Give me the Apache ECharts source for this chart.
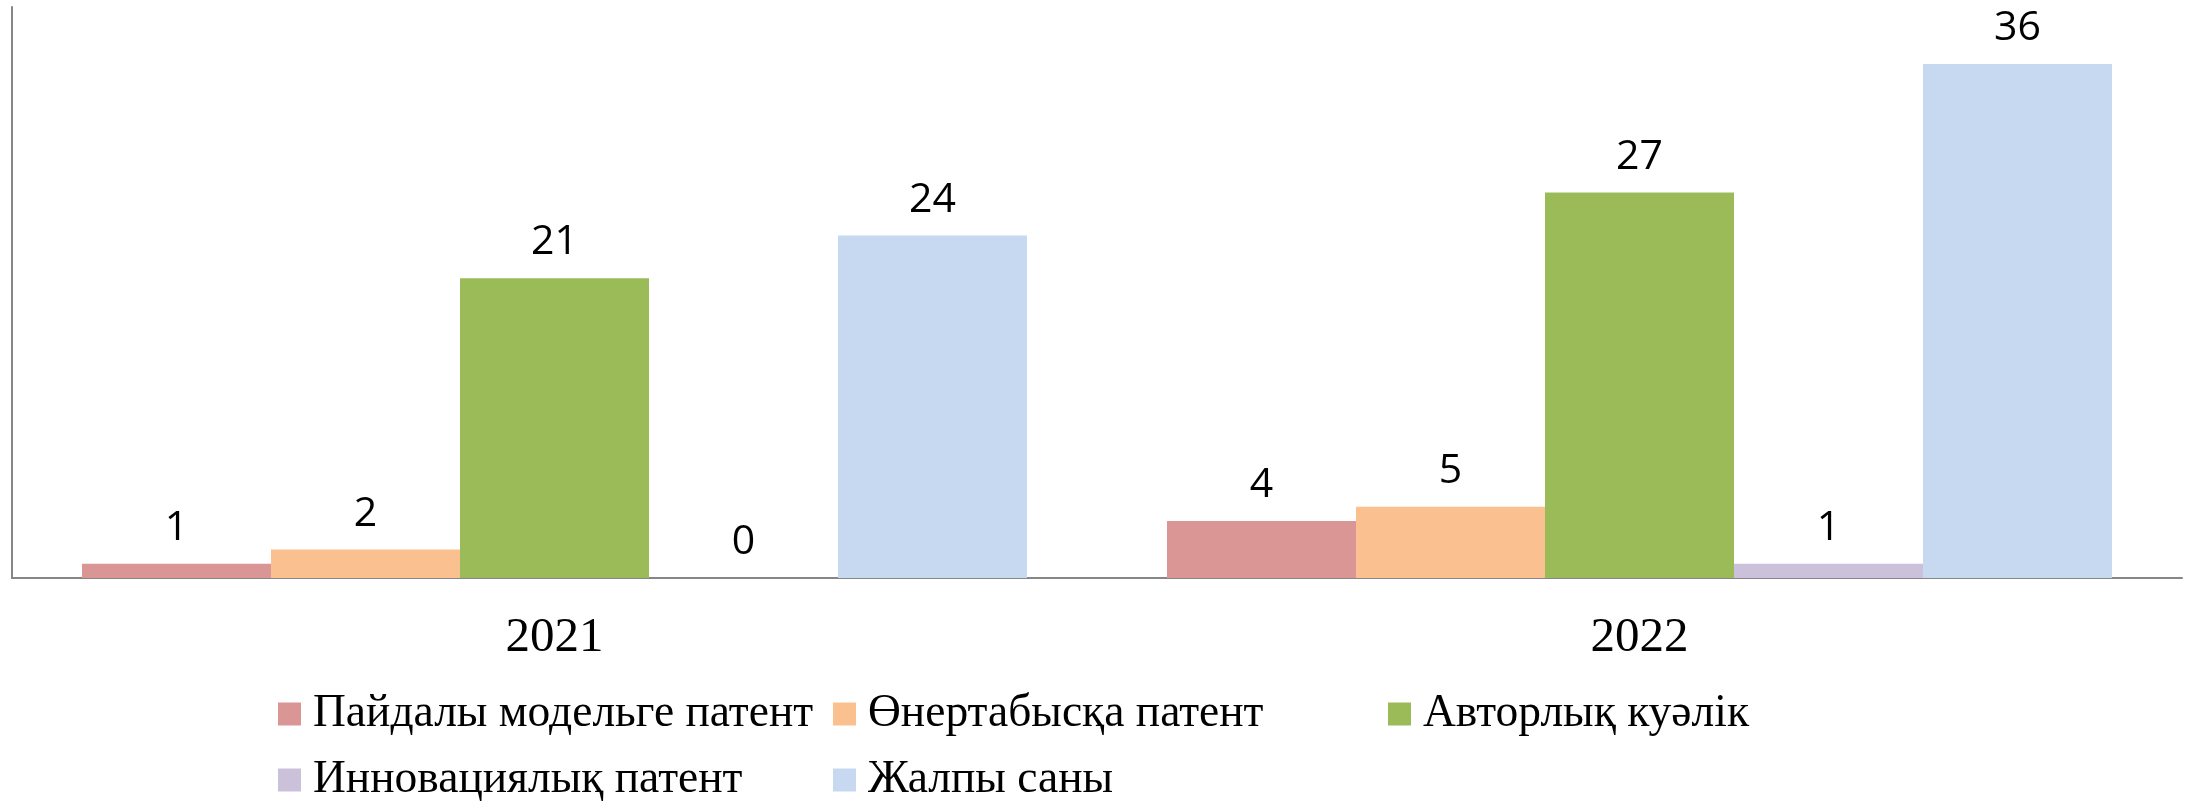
<!DOCTYPE html>
<html><head><meta charset="utf-8">
<script src="https://cdn.jsdelivr.net/npm/echarts@6/dist/echarts.min.js"></script>
<style>html,body{margin:0;padding:0;background:#fff}#c{width:2194px;height:801px}</style>
</head><body><div id="c"></div>
<script>
const categories = ['2021', '2022'];
const seriesNames = ['Пайдалы модельге патент', 'Өнертабысқа патент', 'Авторлық куәлік', 'Инновациялық патент', 'Жалпы саны'];
const utilityModel = [1, 4];
const invention = [2, 5];
const copyright = [21, 27];
const innovation = [0, 1];
const total = [24, 36];
const colors = ['#D99694', '#FAC090', '#9BBB59', '#CCC1DA', '#C6D9F1'];
const values = [utilityModel, invention, copyright, innovation, total];

const chart = echarts.init(document.getElementById('c'), null, {renderer: 'canvas'});
chart.setOption({
  animation: false,
  backgroundColor: '#ffffff',
  grid: {left: 12, right: 12, top: 7, bottom: 223, containLabel: false},
  xAxis: {
    type: 'category', data: categories,
    axisLine: {show: true, lineStyle: {color: '#868686', width: 2}},
    axisTick: {show: false},
    axisLabel: {fontFamily: 'Liberation Serif', fontSize: 49, color: '#000', margin: 36}
  },
  yAxis: {
    type: 'value', min: 0, max: 40, interval: 10,
    axisLine: {show: true, lineStyle: {color: '#868686', width: 2}},
    axisTick: {show: false}, axisLabel: {show: false}, splitLine: {show: false}
  },
  legend: {
    left: 278, top: 681, width: 1700, padding: 0, itemGap: 0,
    itemWidth: 23, itemHeight: 23, icon: 'rect',
    textStyle: {fontFamily: 'Liberation Serif', fontSize: 45.5, color: '#000', width: 520, lineHeight: 66, padding: [0, 0, 0, 7]},
    data: seriesNames
  },
  series: seriesNames.map((n, i) => ({
    name: n, type: 'bar', data: values[i],
    barGap: '0%', barCategoryGap: '12.9%',
    itemStyle: {color: colors[i]},
    label: {show: true, position: 'top', distance: 15, fontFamily: 'Open Sans', fontSize: 41, color: '#000'}
  }))
});
</script></body></html>
